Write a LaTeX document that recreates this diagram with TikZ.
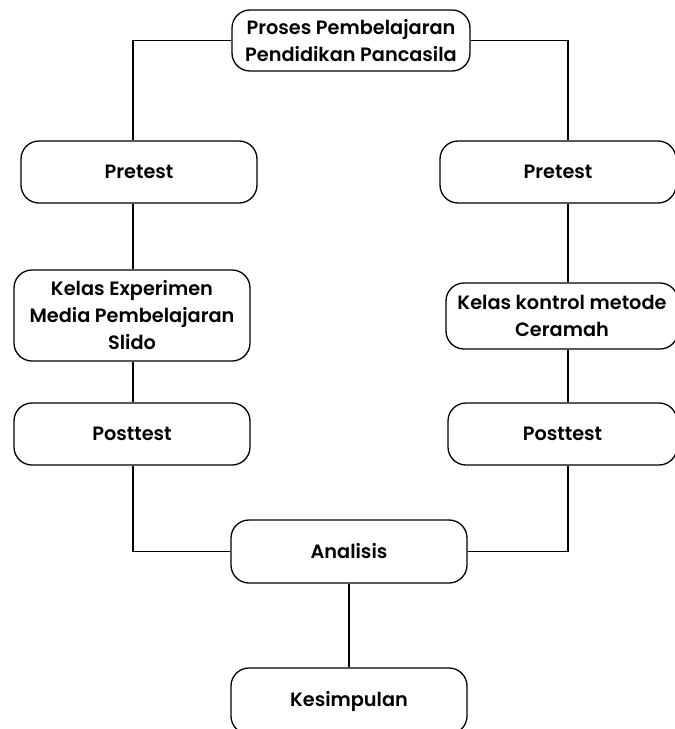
\documentclass[tikz,border=0pt]{standalone}
\usepackage{fontspec}
\setmainfont{Poppins}[UprightFont={* SemiBold}]
\begin{document}
\begin{tikzpicture}[x=1pt,y=-1pt,
  box/.style={draw, line width=1.3pt, rounded corners=18pt, fill=white, align=center,
    inner sep=0pt, font=\fontsize{19.3}{27}\selectfont},
  conn/.style={line width=1.3pt}]
\useasboundingbox (0,0) rectangle (675,729);
\clip (0,0) rectangle (675,729);
\node[box, minimum width=238pt, minimum height=61pt] (top) at (351,40.5) {Proses Pembelajaran\\Pendidikan Pancasila};
\node[box, minimum width=236pt, minimum height=62pt] (lpre) at (139,172) {Pretest};
\node[box, minimum width=236pt, minimum height=62pt] (rpre) at (558,172) {Pretest};
\node[box, minimum width=236pt, minimum height=91pt] (lkel) at (132,315.5) {Kelas Experimen\\Media Pembelajaran\\Slido};
\node[box, minimum width=232pt, minimum height=66pt] (rkel) at (562,316) {Kelas kontrol metode\\Ceramah};
\node[box, minimum width=236pt, minimum height=62pt] (lpost) at (132,434) {Posttest};
\node[box, minimum width=229pt, minimum height=62pt] (rpost) at (562.5,434) {Posttest};
\node[box, minimum width=236pt, minimum height=63pt] (ana) at (349,551.5) {Analisis};
\node[box, minimum width=236pt, minimum height=66pt] (kes) at (349,701) {Kesimpulan};
\coordinate (lx) at (133,0);
\coordinate (rx) at (568,0);
\draw[conn] (top.west) -| (lx |- lpre.north);
\draw[conn] (top.east) -| (rx |- rpre.north);
\draw[conn] (lx |- lpre.south) -- (lx |- lkel.north);
\draw[conn] (lx |- lkel.south) -- (lx |- lpost.north);
\draw[conn] (rx |- rpre.south) -- (rx |- rkel.north);
\draw[conn] (rx |- rkel.south) -- (rx |- rpost.north);
\draw[conn] (lx |- lpost.south) |- (ana.west);
\draw[conn] (rx |- rpost.south) |- (ana.east);
\draw[conn] (ana.south -| kes.north) -- (kes.north);
\end{tikzpicture}
\end{document}
